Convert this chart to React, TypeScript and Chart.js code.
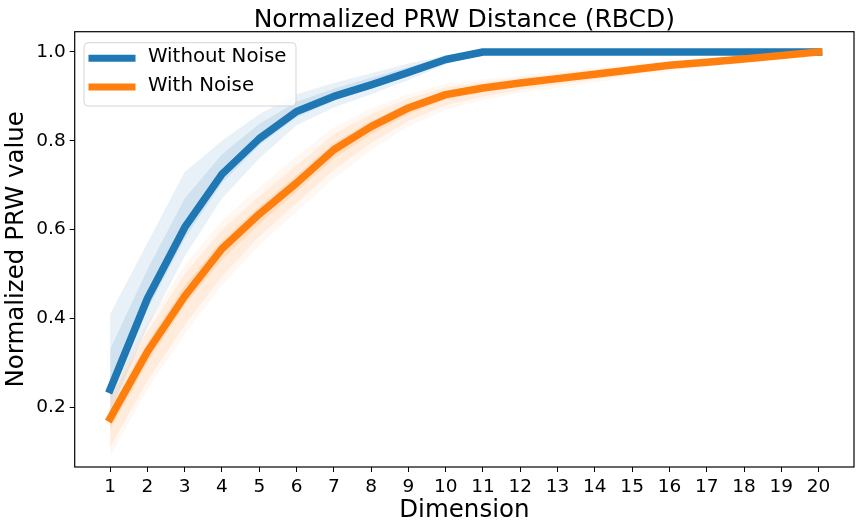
import React, { useEffect, useRef } from 'react';
import { Chart, registerables } from 'chart.js';

Chart.register(...registerables);

const FONT = "'DejaVu Sans', 'Liberation Sans', sans-serif";

const titleText = 'Normalized PRW Distance (RBCD)';
const xTitle = 'Dimension';
const yTitle = 'Normalized PRW value';
const seriesNames = ['Without Noise', 'With Noise'];

const dims = [1, 2, 3, 4, 5, 6, 7, 8, 9, 10, 11, 12, 13, 14, 15, 16, 17, 18, 19, 20];
const yTicks = [0.2, 0.4, 0.6, 0.8, 1.0];

const withoutNoise = [0.24, 0.445, 0.605, 0.725, 0.805, 0.866, 0.9, 0.926, 0.954, 0.983, 1, 1, 1, 1, 1, 1, 1, 1, 1, 1];
const withNoise = [0.175, 0.325, 0.45, 0.557, 0.635, 0.705, 0.78, 0.832, 0.874, 0.904, 0.919, 0.93, 0.94, 0.95, 0.96, 0.97, 0.977, 0.984, 0.992, 1.0];

const blueOuterUpper = [0.41, 0.57, 0.73, 0.8, 0.86, 0.905, 0.93, 0.952, 0.974, 0.992, 1, 1, 1, 1, 1, 1, 1, 1, 1, 1];
const blueOuterLower = [0.19, 0.38, 0.54, 0.67, 0.76, 0.835, 0.875, 0.905, 0.937, 0.972, 1, 1, 1, 1, 1, 1, 1, 1, 1, 1];
const blueInnerUpper = [0.33, 0.51, 0.67, 0.77, 0.838, 0.888, 0.917, 0.942, 0.966, 0.99, 1, 1, 1, 1, 1, 1, 1, 1, 1, 1];
const blueInnerLower = [0.22, 0.42, 0.58, 0.705, 0.79, 0.853, 0.89, 0.918, 0.947, 0.978, 1, 1, 1, 1, 1, 1, 1, 1, 1, 1];

const orangeWideUpper = [0.24, 0.39, 0.52, 0.62, 0.695, 0.765, 0.83, 0.873, 0.905, 0.928, 0.938, 0.947, 0.956, 0.964, 0.972, 0.98, 0.986, 0.992, 0.998, 1.0];
const orangeWideLower = [0.09, 0.24, 0.365, 0.475, 0.565, 0.64, 0.715, 0.78, 0.832, 0.87, 0.892, 0.908, 0.92, 0.932, 0.945, 0.957, 0.966, 0.975, 0.985, 1.0];
const orangeOuterUpper = [0.22, 0.37, 0.5, 0.6, 0.675, 0.745, 0.815, 0.86, 0.895, 0.92, 0.932, 0.942, 0.951, 0.96, 0.968, 0.977, 0.983, 0.99, 0.997, 1.0];
const orangeOuterLower = [0.11, 0.26, 0.385, 0.495, 0.585, 0.66, 0.735, 0.795, 0.845, 0.88, 0.9, 0.915, 0.927, 0.938, 0.95, 0.962, 0.97, 0.978, 0.987, 1.0];
const orangeInnerUpper = [0.195, 0.345, 0.475, 0.575, 0.652, 0.722, 0.795, 0.845, 0.884, 0.912, 0.926, 0.936, 0.946, 0.955, 0.964, 0.973, 0.98, 0.987, 0.994, 1.0];
const orangeInnerLower = [0.15, 0.3, 0.43, 0.532, 0.612, 0.685, 0.76, 0.815, 0.86, 0.893, 0.91, 0.923, 0.934, 0.945, 0.955, 0.966, 0.974, 0.981, 0.989, 1.0];

const BLUE = '#1f77b4';
const ORANGE = '#ff7f0e';

export default function App() {
  const ref = useRef<HTMLCanvasElement>(null);

  useEffect(() => {
    const canvas = ref.current;
    if (!canvas) return;

    const xy = (ys: number[]) => dims.map((d, i) => ({ x: d, y: ys[i] }));
    const line = (label: string, ys: number[], color: string, order: number) => ({
      label,
      data: xy(ys),
      borderColor: color,
      backgroundColor: color,
      borderWidth: 7.5,
      pointRadius: 0,
      tension: 0,
      fill: false,
      borderCapStyle: 'square',
      borderJoinStyle: 'round',
      order,
    });
    const band = (upper: number[], lower: number[], color: string, order: number) => [
      {
        label: '',
        data: xy(upper),
        fill: '+1',
        backgroundColor: color,
        borderColor: 'rgba(0,0,0,0)',
        borderWidth: 0,
        pointRadius: 0,
        tension: 0,
        order,
      },
      {
        label: '',
        data: xy(lower),
        fill: false,
        backgroundColor: 'rgba(0,0,0,0)',
        borderColor: 'rgba(0,0,0,0)',
        borderWidth: 0,
        pointRadius: 0,
        tension: 0,
        order,
      },
    ];

    const datasets: any[] = [
      line(seriesNames[1], withNoise, ORANGE, 0),
      line(seriesNames[0], withoutNoise, BLUE, 1),
      ...band(blueOuterUpper, blueOuterLower, 'rgba(31,119,180,0.10)', 7),
      ...band(blueInnerUpper, blueInnerLower, 'rgba(31,119,180,0.12)', 6),
      ...band(orangeWideUpper, orangeWideLower, 'rgba(255,127,14,0.06)', 5),
      ...band(orangeOuterUpper, orangeOuterLower, 'rgba(255,127,14,0.09)', 4),
      ...band(orangeInnerUpper, orangeInnerLower, 'rgba(255,127,14,0.13)', 3),
    ];

    const decor = {
      id: 'decor',
      afterDraw(chart: any) {
        const { ctx, chartArea: a } = chart;
        ctx.save();
        ctx.strokeStyle = '#000';
        ctx.lineWidth = 1.2;
        ctx.strokeRect(a.left, a.top, a.right - a.left, a.bottom - a.top);
        ctx.fillStyle = '#000';
        ctx.font = `25px ${FONT}`;
        ctx.textAlign = 'center';
        ctx.textBaseline = 'alphabetic';
        ctx.fillText(titleText, (a.left + a.right) / 2, 26.7);
        const lx = 84, ly = 42.7, lw = 212, lh = 63.3;
        ctx.beginPath();
        if (ctx.roundRect) ctx.roundRect(lx, ly, lw, lh, 4);
        else ctx.rect(lx, ly, lw, lh);
        ctx.fillStyle = 'rgba(255,255,255,0.8)';
        ctx.fill();
        ctx.strokeStyle = 'rgba(204,204,204,0.8)';
        ctx.lineWidth = 1;
        ctx.stroke();
        const rows = [
          { name: seriesNames[0], color: BLUE, y: 58.3 },
          { name: seriesNames[1], color: ORANGE, y: 87 },
        ];
        ctx.font = `19.8px ${FONT}`;
        ctx.textAlign = 'left';
        ctx.textBaseline = 'middle';
        rows.forEach((r) => {
          ctx.beginPath();
          ctx.lineCap = 'square';
          ctx.lineWidth = 7;
          ctx.strokeStyle = r.color;
          ctx.moveTo(92, r.y);
          ctx.lineTo(132, r.y);
          ctx.stroke();
          ctx.fillStyle = '#000';
          ctx.fillText(r.name, 148, r.y - 1);
        });
        ctx.restore();
      },
    };

    const chart = new Chart(canvas, {
      type: 'line',
      data: { datasets },
      options: {
        animation: false,
        responsive: false,
        devicePixelRatio: 1,
        layout: { padding: { top: 31.7, right: 8, left: 0, bottom: 0 } },
        plugins: {
          legend: { display: false },
          title: { display: false },
          tooltip: { enabled: false },
        },
        scales: {
          x: {
            type: 'linear',
            min: 0.05,
            max: 20.95,
            afterBuildTicks: (s: any) => {
              s.ticks = dims.map((v) => ({ value: v }));
            },
            afterFit: (s: any) => {
              s.height = 61;
            },
            border: { display: false },
            grid: {
              drawOnChartArea: false,
              drawTicks: true,
              tickLength: 5,
              color: '#000',
              tickColor: '#000',
              tickWidth: 1,
            },
            ticks: {
              color: '#000',
              padding: 4.5,
              maxRotation: 0,
              autoSkip: false,
              font: { family: FONT, size: 18.5 },
              callback: (v: any) => String(v),
            },
            title: {
              display: true,
              text: xTitle,
              color: '#000',
              font: { family: FONT, size: 24.5, lineHeight: 1 },
              padding: { top: 0, bottom: 5.5 },
            },
          },
          y: {
            type: 'linear',
            min: 0.0655,
            max: 1.0457,
            afterBuildTicks: (s: any) => {
              s.ticks = yTicks.map((v) => ({ value: v }));
            },
            afterFit: (s: any) => {
              s.width = 74.7;
            },
            border: { display: false },
            grid: {
              drawOnChartArea: false,
              drawTicks: true,
              tickLength: 5,
              color: '#000',
              tickColor: '#000',
              tickWidth: 1,
            },
            ticks: {
              color: '#000',
              padding: 4,
              font: { family: FONT, size: 18.5 },
              callback: (v: any) => Number(v).toFixed(1),
            },
            title: {
              display: true,
              text: yTitle,
              color: '#000',
              font: { family: FONT, size: 24.5, lineHeight: 1 },
              padding: { top: 4.5, bottom: 0 },
            },
          },
        },
      },
      plugins: [decor],
    } as any);

    return () => chart.destroy();
  }, []);

  return (
    <div style={{ position: 'fixed', left: 0, top: 0, width: 862, height: 528, background: '#fff' }}>
      <canvas ref={ref} width={862} height={528} style={{ display: 'block' }} />
    </div>
  );
}
